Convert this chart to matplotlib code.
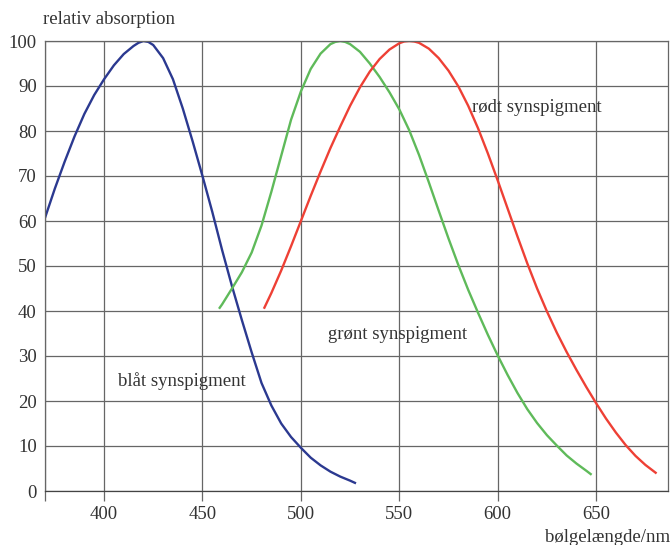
import matplotlib
matplotlib.use('Agg')
import matplotlib.pyplot as plt

# blue pigment
blue_nm = [370, 375, 380, 385, 390, 395, 400, 405, 410, 415, 417.5, 420, 422.5, 425, 430,
           435, 440, 445, 450, 455, 460, 465, 470, 475, 480, 485, 490, 495, 500, 505,
           510, 515, 520, 525, 528]
blue_val = [60.7, 67.2, 73.2, 78.8, 83.8, 88, 91.5, 94.6, 97.1, 98.9, 99.6, 100, 99.8, 99.1, 96.2,
            91.5, 85, 77.7, 70, 62, 53.5, 45.5, 38, 30.8, 24, 19, 15, 12, 9.6, 7.4,
            5.7, 4.3, 3.2, 2.3, 1.7]

# green pigment
green_nm = [458.4, 460, 465, 470, 475, 480, 485, 490, 495, 500, 505, 510, 515, 517.5, 520,
            522.5, 525, 530, 535, 540, 545, 550, 555, 560, 565, 570, 575, 580, 585, 590,
            595, 600, 605, 610, 615, 620, 625, 630, 635, 640, 645, 647.7]
green_val = [40.5, 41.5, 45, 48.6, 53, 59, 66.5, 74.5, 82.5, 88.8, 93.8, 97.2, 99.3, 99.8, 100,
             99.8, 99.3, 97.6, 95, 92, 88.6, 84.8, 80.2, 74.7, 68.6, 62.3, 56.1, 50.2, 44.7, 39.6,
             34.7, 30.1, 25.8, 21.8, 18.2, 15.1, 12.4, 10.1, 7.9, 6.1, 4.5, 3.6]

# red pigment
red_nm = [481.2, 485, 490, 495, 500, 505, 510, 515, 520, 525, 530, 535, 540, 545, 550,
          552.5, 555, 557.5, 560, 565, 570, 575, 580, 585, 590, 595, 600, 605, 610, 615,
          620, 625, 630, 635, 640, 645, 650, 655, 660, 665, 670, 675, 680.7]
red_val = [40.5, 44, 49, 54.4, 60, 65.6, 71, 76.2, 81, 85.6, 89.7, 93.2, 96, 98.1, 99.5,
           99.9, 100, 99.9, 99.6, 98.3, 96.2, 93.4, 89.9, 85.6, 80.6, 75, 69, 62.8, 56.6, 50.6,
           45, 39.9, 35.2, 30.9, 26.9, 23.1, 19.5, 16.1, 13, 10.2, 7.8, 5.8, 3.9]

x_ticks = [370, 400, 450, 500, 550, 600, 650]
x_labels = ['', '400', '450', '500', '550', '600', '650']
y_ticks = [0, 10, 20, 30, 40, 50, 60, 70, 80, 90, 100]

plt.rcParams['font.family'] = ['Liberation Serif', 'DejaVu Serif']
text_color = '#333333'
grid_color = '#666666'
fs = 13.5

fig = plt.figure(figsize=(6.72, 5.45), dpi=100)
ax = fig.add_axes([45 / 672, 1 - 491 / 545, 623 / 672, 450 / 545])

ax.plot(blue_nm, blue_val, color='#2b3990', lw=1.7, solid_capstyle='butt')
ax.plot(green_nm, green_val, color='#5fba5a', lw=1.7, solid_capstyle='butt')
ax.plot(red_nm, red_val, color='#ee4035', lw=1.7, solid_capstyle='butt')

ax.set_xlim(370, 686.5)
ax.set_ylim(0, 100)
ax.set_xticks(x_ticks)
ax.set_xticklabels(x_labels)
ax.set_yticks(y_ticks)

ax.grid(True, color=grid_color, lw=0.9)
ax.set_axisbelow(True)
for s in ax.spines.values():
    s.set_color(grid_color)
    s.set_linewidth(0.9)
ax.spines['bottom'].set_color('#444444')

ax.tick_params(axis='x', direction='out', length=7, width=0.9, color=grid_color,
               labelsize=fs, labelcolor=text_color, pad=4)
ax.tick_params(axis='y', length=0, labelsize=fs, labelcolor=text_color, pad=6)

fig.text(43 / 672, 1 - 20 / 545, 'relativ absorption', fontsize=fs, color=text_color,
         ha='left', va='center')
fig.text(670 / 672, 1 - 537 / 545, 'bølgelængde/nm', fontsize=fs, color=text_color,
         ha='right', va='center')

ax.text(407, 24.4, 'blåt synspigment', fontsize=fs, color=text_color, ha='left', va='center')
ax.text(513.7, 34.8, 'grønt synspigment', fontsize=fs, color=text_color, ha='left', va='center')
ax.text(586.9, 85.3, 'rødt synspigment', fontsize=fs, color=text_color, ha='left', va='center')

fig.savefig('out.png', dpi=100)
